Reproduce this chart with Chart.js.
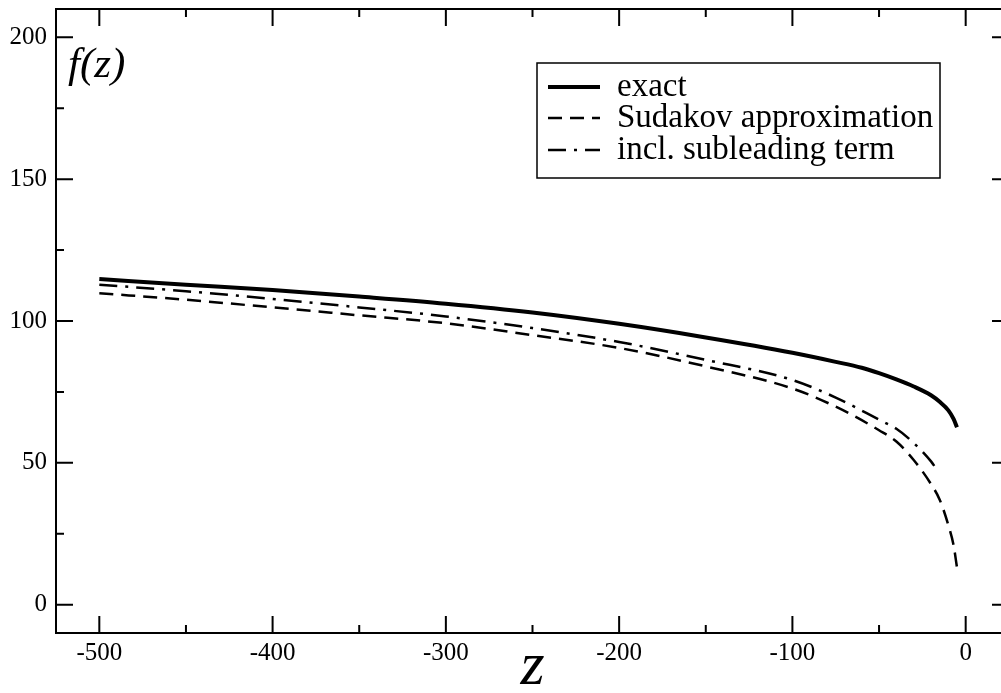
<!DOCTYPE html>
<html>
<head>
<meta charset="utf-8">
<script src="https://cdn.jsdelivr.net/npm/chart.js@4/dist/chart.umd.min.js"></script>
<style>
  html, body { margin: 0; padding: 0; background: #fff; overflow: hidden; }
  #wrap { width: 1015px; height: 693px; }
</style>
</head>
<body>
<div id="wrap"><canvas id="c" width="1015" height="693"></canvas></div>
<script>
// ---- data ----
const xTicks = [-500, -400, -300, -200, -100, 0];
const xMinorTicks = [-450, -350, -250, -150, -50];
const yTicks = [0, 50, 100, 150, 200];
const yMinorTicks = [25, 75, 125, 175];

const exactZ = [-500, -450, -400, -350, -300, -250, -200, -150, -100, -75, -60, -50, -40, -30, -20, -15, -10, -7, -5];
const exactF = [114.8, 112.8, 110.9, 108.6, 106.1, 103.0, 99.0, 94.2, 88.8, 85.6, 83.5, 81.6, 79.4, 76.9, 73.8, 71.5, 68.5, 65.5, 62.5];

const sudakovZ = [-500, -450, -400, -350, -300, -250, -200, -150, -100, -75, -50, -40, -30, -20, -15, -10, -7, -5];
const sudakovF = [109.8, 107.5, 104.8, 102.0, 99.2, 95.0, 90.5, 84.0, 76.2, 69.8, 61.5, 57.5, 51.0, 42.5, 37.0, 28.0, 21.0, 13.0];

const sublZ = [-500, -450, -400, -350, -300, -250, -200, -150, -100, -75, -50, -40, -30, -20, -16];
const sublF = [112.8, 110.5, 107.8, 104.8, 101.6, 97.5, 92.6, 86.3, 79.2, 73.0, 65.2, 62.0, 57.0, 50.5, 47.0];

const seriesNames = ['exact', 'Sudakov approximation', 'incl. subleading term'];

const zip = (xs, ys) => xs.map((x, i) => ({ x: x, y: ys[i] }));

const SERIF = '"Liberation Serif", "Times New Roman", serif';
const dashSud = [14, 8];
const dashSub = [18, 8, 3, 8];

const framePlugin = {
  id: 'frame',
  afterDraw(chart) {
    const ctx = chart.ctx;
    const a = chart.chartArea;
    const xs = chart.scales.x, ys = chart.scales.y;
    ctx.save();
    ctx.strokeStyle = '#000';
    ctx.lineWidth = 2;
    ctx.setLineDash([]);
    ctx.strokeRect(a.left, a.top, a.right - a.left, a.bottom - a.top);
    const major = 17, minor = 8;
    ctx.beginPath();
    const vt = (vals, len) => vals.forEach(v => {
      const p = xs.getPixelForValue(v);
      ctx.moveTo(p, a.bottom); ctx.lineTo(p, a.bottom - len);
      ctx.moveTo(p, a.top); ctx.lineTo(p, a.top + len);
    });
    const ht = (vals, len) => vals.forEach(v => {
      const p = ys.getPixelForValue(v);
      ctx.moveTo(a.left, p); ctx.lineTo(a.left + len, p);
      ctx.moveTo(a.right, p); ctx.lineTo(a.right - len, p);
    });
    vt(xTicks, major); vt(xMinorTicks, minor);
    ht(yTicks, major); ht(yMinorTicks, minor);
    ctx.stroke();

    // y label inside plot
    ctx.fillStyle = '#000';
    ctx.font = 'italic 43px ' + SERIF;
    ctx.textAlign = 'left';
    ctx.textBaseline = 'alphabetic';
    ctx.fillText('f(z)', 68, 77);

    // legend
    const bx = 537, by = 63, bw = 403, bh = 115;
    ctx.fillStyle = '#fff';
    ctx.fillRect(bx, by, bw, bh);
    ctx.lineWidth = 1.5;
    ctx.strokeRect(bx, by, bw, bh);
    const rows = [87, 118, 150];
    const styles = [
      { w: 4, d: [] },
      { w: 2.5, d: dashSud },
      { w: 2.5, d: dashSub }
    ];
    rows.forEach((ry, i) => {
      ctx.beginPath();
      ctx.lineWidth = styles[i].w;
      ctx.setLineDash(styles[i].d);
      ctx.moveTo(548, ry); ctx.lineTo(600, ry);
      ctx.stroke();
      ctx.setLineDash([]);
      ctx.fillStyle = '#000';
      ctx.font = '33px ' + SERIF;
      ctx.textBaseline = 'middle';
      ctx.fillText(seriesNames[i], 617, ry);
    });
    ctx.restore();
  }
};

const zeroPad = s => { s.paddingTop = 0; s.paddingBottom = 0; s.paddingLeft = 0; s.paddingRight = 0; };

new Chart(document.getElementById('c'), {
  type: 'line',
  data: {
    datasets: [
      { label: seriesNames[0], data: zip(exactZ, exactF), borderColor: '#000', borderWidth: 4, pointRadius: 0, fill: false, cubicInterpolationMode: 'monotone' },
      { label: seriesNames[1], data: zip(sudakovZ, sudakovF), borderColor: '#000', borderWidth: 2.5, borderDash: dashSud, pointRadius: 0, fill: false, cubicInterpolationMode: 'monotone' },
      { label: seriesNames[2], data: zip(sublZ, sublF), borderColor: '#000', borderWidth: 2.5, borderDash: dashSub, pointRadius: 0, fill: false, cubicInterpolationMode: 'monotone' }
    ]
  },
  options: {
    responsive: false,
    animation: false,
    devicePixelRatio: 1,
    layout: { padding: { top: 9, right: 6, left: 0, bottom: 0 } },
    plugins: { legend: { display: false }, tooltip: { enabled: false } },
    scales: {
      x: {
        type: 'linear', min: -525, max: 25,
        afterBuildTicks: s => { s.ticks = xTicks.map(v => ({ value: v })); },
        afterFit: s => { s.height = 60; zeroPad(s); },
        grid: { display: false, drawTicks: false },
        border: { display: false },
        ticks: { color: '#000', font: { family: SERIF, size: 25 }, padding: 5, maxRotation: 0, callback: v => String(v) },
        title: { display: true, text: 'z', color: '#000', font: { family: SERIF, size: 62, style: 'italic', lineHeight: 0.8 }, padding: { top: 0, bottom: 0 } }
      },
      y: {
        type: 'linear', min: -10, max: 210,
        afterBuildTicks: s => { s.ticks = yTicks.map(v => ({ value: v })); },
        afterFit: s => { s.width = 56; zeroPad(s); },
        grid: { display: false, drawTicks: false },
        border: { display: false },
        ticks: { color: '#000', font: { family: SERIF, size: 25 }, padding: 9, callback: v => String(v) }
      }
    }
  },
  plugins: [framePlugin]
});
</script>
</body>
</html>
